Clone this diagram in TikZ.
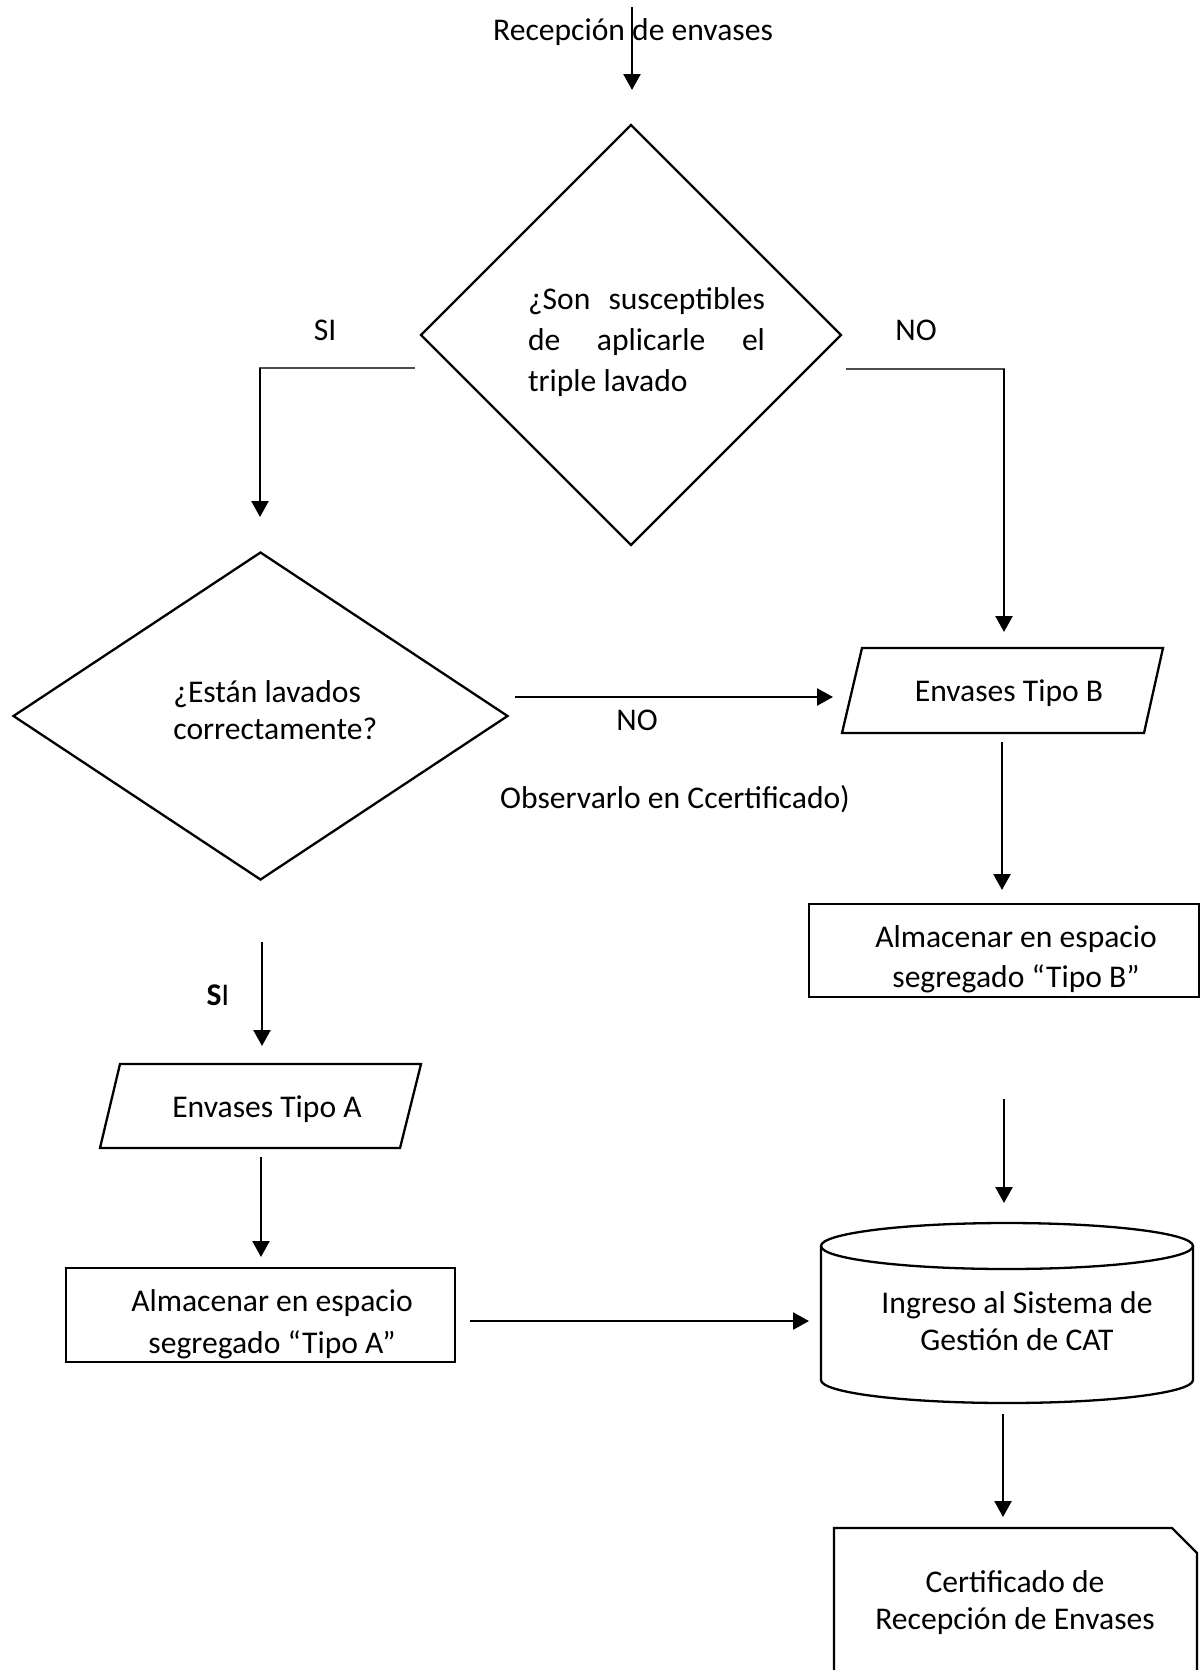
\documentclass[tikz,border=0pt]{standalone}
\usepackage{fontspec}
\setmainfont{Carlito}
\usetikzlibrary{arrows.meta,shapes.geometric}
\begin{document}
\begin{tikzpicture}[x=0.5pt,y=-0.5pt,
  txt/.style={font=\fontsize{15.8}{19}\selectfont, inner sep=0pt, align=center},
  ln/.style={line width=1.15pt, line join=miter},
  thinln/.style={line width=0.7pt, draw=black!70},
  arr/.style={line width=1.25pt, -{Triangle[width=8.5pt,length=8pt]}},
  dia/.style={draw, diamond, line width=1.15pt, inner sep=0pt},
  box/.style={draw, rectangle, line width=1.15pt, inner sep=0pt}]
\useasboundingbox (0,0) rectangle (1200,1670);
\clip (0,0) rectangle (1200,1670);

% title and first arrow
\node[txt] (title) at (633,32) {Recepción de envases};
\coordinate (a0s) at (632,7);
\coordinate (a0e) at (632,90);
\draw[arr] (a0s) -- (a0e);

% first decision
\node[dia, minimum width=210.5pt, minimum height=210.5pt] (d1) at (631,335) {};
\node[txt, align=left, font=\fontsize{15.8}{20.5}\selectfont] (d1t) at (646.5,342)
  {\makebox[118.5pt][s]{¿Son susceptibles}\\\makebox[118.5pt][s]{de aplicarle el}\\\makebox[118.5pt][l]{triple lavado}};

% SI branch
\coordinate (siA) at (415,368);
\coordinate (siB) at (259,368);
\coordinate (siB2) at (260,368);
\coordinate (siC) at (260,517);
\draw[thinln] (siA) -- (siB);
\draw[arr] (siB2) -- (siC);
\node[txt] (si1) at (325,330) {SI};

% NO branch
\coordinate (noA) at (846,369);
\coordinate (noB) at (1005,369);
\coordinate (noB2) at (1004,369);
\coordinate (noC) at (1004,632);
\draw[thinln] (noA) -- (noB);
\draw[arr] (noB2) -- (noC);
\node[txt] (no1) at (916,330) {NO};

% second decision
\node[dia, minimum width=247.5pt, minimum height=164pt] (d2) at (260.5,716) {};
\node[txt, align=left, anchor=west, font=\fontsize{15.8}{18.5}\selectfont] (d2t) at (173,710)
  {¿Están lavados\\correctamente?};

% NO from second decision
\coordinate (n2a) at (515,697);
\coordinate (n2b) at (833,697);
\draw[arr] (n2a) -- (n2b);
\node[txt] (no2) at (637,720) {NO};
\node[txt] (obs) at (675,799) {Observarlo en Ccertificado)};

% Envases Tipo B
\coordinate (pB1) at (862,648);
\coordinate (pB2) at (1163,648);
\coordinate (pB3) at (1144,733);
\coordinate (pB4) at (842,733);
\draw[ln] (pB1) -- (pB2) -- (pB3) -- (pB4) -- cycle;
\node[txt] (pBt) at (1009,693) {Envases Tipo B};

\coordinate (bA) at (1002,742);
\coordinate (bB) at (1002,890);
\draw[arr] (bA) -- (bB);

% Almacenar Tipo B
\node[box, minimum width=195pt, minimum height=46.5pt] (rB) at (1004,950.5) {};
\node[txt, font=\fontsize{15.8}{20}\selectfont] (rBt) at (1016,959) {Almacenar en espacio\\segregado “Tipo B”};

\coordinate (cA) at (1004,1099);
\coordinate (cB) at (1004,1203);
\draw[arr] (cA) -- (cB);

% Cylinder
\coordinate (cylL) at (821,1246);
\coordinate (cylR) at (1193,1246);
\coordinate (cylC) at (1007,1246);
\draw[ln] (cylL) -- (821,1380) arc[start angle=180, end angle=360, x radius=93pt, y radius=11.5pt] -- (cylR);
\draw[ln] (cylC) ellipse [x radius=93pt, y radius=11.5pt];
\node[txt, font=\fontsize{15.8}{18.5}\selectfont] (cylt) at (1017,1321) {Ingreso al Sistema de\\Gestión de CAT};

\coordinate (dA) at (1003,1414);
\coordinate (dB) at (1003,1517);
\draw[arr] (dA) -- (dB);

% Certificado
\coordinate (ce1) at (834,1700);
\coordinate (ce2) at (834,1528);
\coordinate (ce3) at (1172,1528);
\coordinate (ce4) at (1197,1553);
\coordinate (ce5) at (1197,1700);
\draw[ln] (ce1) -- (ce2) -- (ce3) -- (ce4) -- (ce5);
\node[txt, font=\fontsize{15.8}{18.5}\selectfont] (cet) at (1015,1603) {Certificado de\\Recepción de Envases};

% left column
\node[txt] (siL) at (218,995) {\textbf{S}I};
\coordinate (eA) at (262,942);
\coordinate (eB) at (262,1046);
\draw[arr] (eA) -- (eB);

\coordinate (pA1) at (120,1064);
\coordinate (pA2) at (421,1064);
\coordinate (pA3) at (400,1148);
\coordinate (pA4) at (100,1148);
\draw[ln] (pA1) -- (pA2) -- (pA3) -- (pA4) -- cycle;
\node[txt] (pAt) at (267,1109) {Envases Tipo A};

\coordinate (fA) at (261,1157);
\coordinate (fB) at (261,1257);
\draw[arr] (fA) -- (fB);

\node[box, minimum width=194.5pt, minimum height=47pt] (rA) at (260.5,1315) {};
\node[txt, font=\fontsize{15.8}{21}\selectfont] (rAt) at (272,1324) {Almacenar en espacio\\segregado “Tipo A”};

\coordinate (gA) at (470,1321);
\coordinate (gB) at (809,1321);
\draw[arr] (gA) -- (gB);
\end{tikzpicture}
\end{document}
